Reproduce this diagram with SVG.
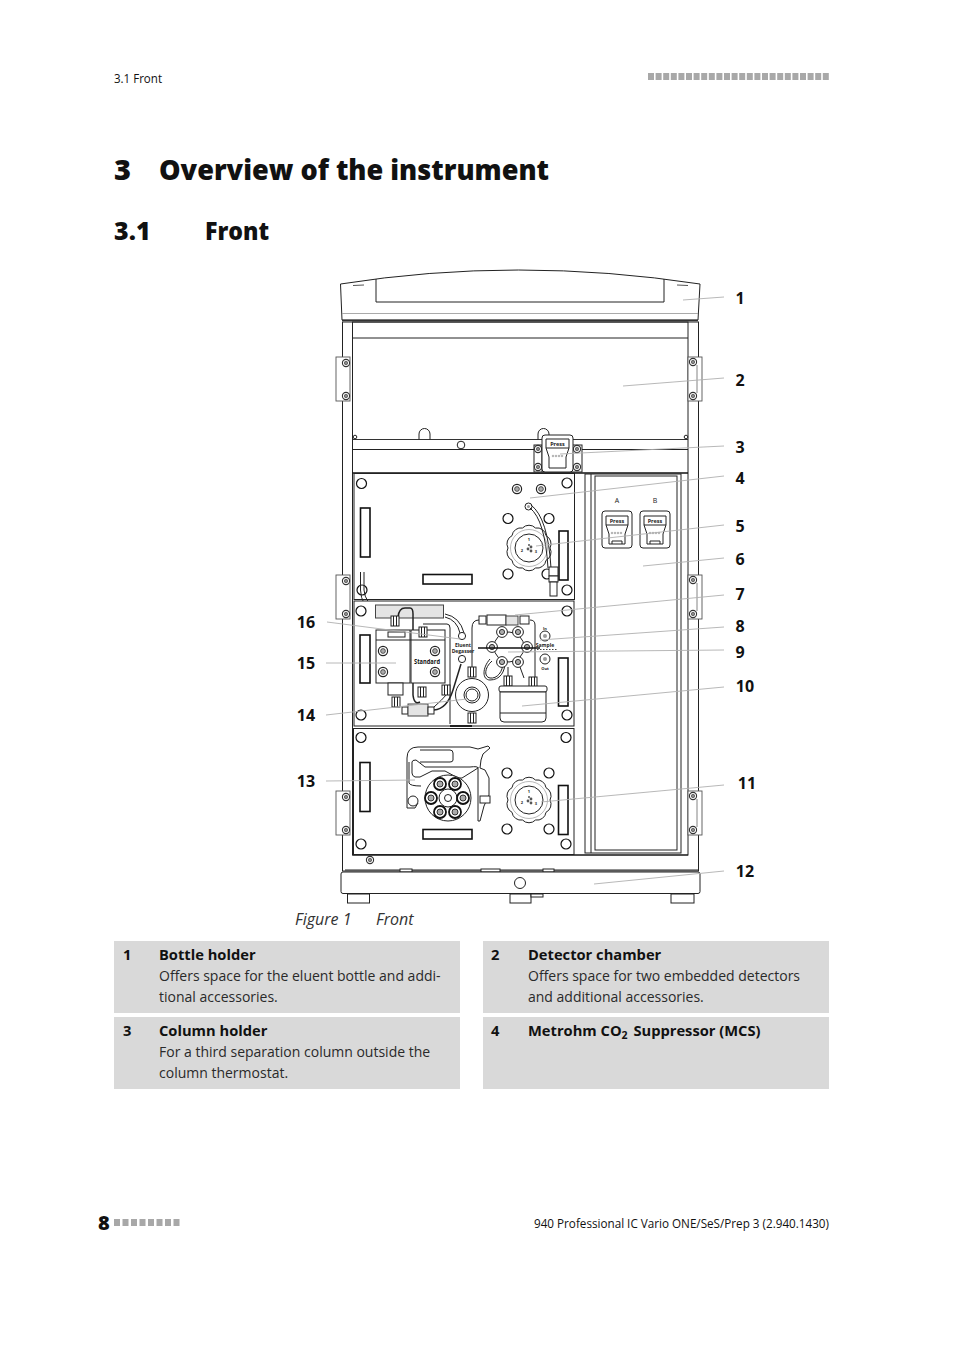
<svg xmlns="http://www.w3.org/2000/svg" xmlns:xlink="http://www.w3.org/1999/xlink" width="954" height="1350" viewBox="0 0 954 1350">
<style>
text{font-family:"Open Sans","Noto Sans","Liberation Sans",sans-serif;fill:#111}
.b{font-weight:800}
.body{font-size:14px;fill:#2a2a2a}
.hd{font-size:14.7px;font-weight:700}
.call{font-size:16px;font-weight:700;text-anchor:middle}
.cap{font-size:16px;font-style:italic;fill:#333}
.l{fill:none;stroke:#222;stroke-width:1}
.t{fill:none;stroke:#222;stroke-width:1.5}
.w{fill:#fff;stroke:#222;stroke-width:1}
.g{fill:#e4e4e4;stroke:#444;stroke-width:1}
.slot{fill:#fff;stroke:#111;stroke-width:1.6}
.lead{fill:none;stroke:#b0b0b0;stroke-width:.9}
.box{fill:#d9d9d9}
.sq{fill:#a8a8a8}
.mini{font-size:5.5px;font-weight:700;text-anchor:middle;fill:#222}
.dig{font-size:4px;font-weight:700;text-anchor:middle;fill:#222}
</style>
<defs>
<g id="hole"><circle r="5" fill="#fff" stroke="#111" stroke-width="1.2"/></g>
<g id="screw"><circle r="3.6" fill="#fff" stroke="#333" stroke-width="1.1"/><circle r="1.7" fill="#888" stroke="#333" stroke-width=".6"/></g>
<g id="bigscrew"><circle r="4.6" fill="#fff" stroke="#222" stroke-width="1.2"/><circle r="2.4" fill="#aaa" stroke="#222" stroke-width=".7"/></g>
<g id="hinge"><rect x="-7" y="0" width="14" height="44" fill="#fff" stroke="#555" stroke-width=".9"/><use href="#screw" x="3" y="6"/><use href="#screw" x="3" y="39"/></g>
<g id="hingeR"><rect x="-7" y="0" width="14" height="44" fill="#fff" stroke="#555" stroke-width=".9"/><line x1="2" y1="8" x2="2" y2="36" stroke="#777" stroke-width=".9"/><use href="#screw" x="-2" y="5"/><use href="#screw" x="-2" y="39"/></g>
<g id="knob">
<path class="w" d="M21 0A9 9 0 0 1 17 12.300A9 9 0 0 1 6.500 20A9 9 0 0 1-6.500 20A9 9 0 0 1-17 12.300A9 9 0 0 1-21 0A9 9 0 0 1-17-12.300A9 9 0 0 1-6.500-20A9 9 0 0 1 6.500-20A9 9 0 0 1 17-12.300A9 9 0 0 1 21 0Z"/>
<circle r="18.500" stroke="#999" fill="none" stroke-width=".7"/><circle r="14" class="l" stroke-width="1.300"/>
<circle cx="-1" cy="1" r="1.400" fill="#555"/><circle cx="2" cy="-1" r="1.400" fill="#555"/><circle cx="2" cy="3" r="1.400" fill="#555"/><circle cx="0" cy="-3" r="1" fill="#555"/>
<text class="dig" x="0" y="-7">1</text><text class="dig" x="-7" y="4">2</text><text class="dig" x="7" y="5">3</text>
</g>
<g id="press">
<rect x="0" y="0" width="30" height="37" rx="3" class="w" stroke-width="1.400"/>
<path class="l" d="M4 5H26V14H4Z" fill="#e0e0e0"/>
<text class="mini" x="15" y="11.500" font-size="6">Press</text>
<path class="l" d="M4 14L7 23V33H23V23L26 14"/>
<path class="l" d="M10 33V30H20V33"/>
<circle cx="10" cy="22" r=".8" stroke="#777" fill="none" stroke-width=".6"/><circle cx="13" cy="22" r=".8" stroke="#777" fill="none" stroke-width=".6"/><circle cx="16" cy="22" r=".8" stroke="#777" fill="none" stroke-width=".6"/><circle cx="19" cy="22" r=".8" stroke="#777" fill="none" stroke-width=".6"/>
</g>
<g id="fit"><rect x="-4" y="-5" width="8" height="10" class="w" stroke-width="1.200"/><line x1="-1.500" y1="-5" x2="-1.500" y2="5" class="l" stroke="#555"/><line x1="1.500" y1="-5" x2="1.500" y2="5" class="l" stroke="#555"/></g>
<g id="vfit"><circle r="5.400" class="w" stroke-width="1.400"/><circle r="2.600" fill="#aaa" stroke="#222" stroke-width=".9"/></g>
<g id="roller"><circle r="6" fill="#fff" stroke="#111" stroke-width="1.800"/><circle r="3" fill="#aaa" stroke="#222" stroke-width=".9"/></g>
<rect id="s1" width="6" height="7" class="sq"/>
</defs>

<g id="page-header">
<text x="114" y="83" font-size="13.500" textLength="48" lengthAdjust="spacingAndGlyphs">3.1 Front</text>
<g id="header-squares">
<use href="#s1" x="648" y="73"/><use href="#s1" x="655.600" y="73"/><use href="#s1" x="663.200" y="73"/><use href="#s1" x="670.800" y="73"/><use href="#s1" x="678.400" y="73"/><use href="#s1" x="686" y="73"/><use href="#s1" x="693.600" y="73"/><use href="#s1" x="701.200" y="73"/><use href="#s1" x="708.800" y="73"/><use href="#s1" x="716.400" y="73"/><use href="#s1" x="724" y="73"/><use href="#s1" x="731.600" y="73"/><use href="#s1" x="739.200" y="73"/><use href="#s1" x="746.800" y="73"/><use href="#s1" x="754.400" y="73"/><use href="#s1" x="762" y="73"/><use href="#s1" x="769.600" y="73"/><use href="#s1" x="777.200" y="73"/><use href="#s1" x="784.800" y="73"/><use href="#s1" x="792.400" y="73"/><use href="#s1" x="800" y="73"/><use href="#s1" x="807.600" y="73"/><use href="#s1" x="815.200" y="73"/><use href="#s1" x="822.800" y="73"/>
</g>
</g>

<g id="headings">
<text class="b" x="114" y="180" font-size="29">3</text>
<text class="b" x="159" y="180" font-size="29" textLength="390" lengthAdjust="spacingAndGlyphs">Overview of the instrument</text>
<text class="b" x="114" y="240" font-size="25">3.1</text>
<text class="b" x="205" y="240" font-size="24" textLength="64" lengthAdjust="spacingAndGlyphs">Front</text>
</g>

<g id="instrument">
<g id="bottle-holder">
<path class="w" d="M340.500 284Q517 256 700 284L698 320H342Z"/>
<path class="l" d="M376 279V302H664V279" stroke="#555"/>
<line x1="342" y1="313.500" x2="698" y2="313.500" stroke="#aaa"/>
<path d="M342 320.500H698" stroke="#333" stroke-width="1.600"/>
<line x1="353" y1="285.500" x2="364" y2="285" stroke="#555"/><line x1="677" y1="285" x2="688" y2="285.500" stroke="#555"/>
</g>
<g id="housing">
<rect x="342.500" y="322" width="356" height="549" class="l" fill="#fff"/>
<rect x="352.500" y="322" width="335.500" height="533" class="l" stroke="#111"/>
<line x1="352.500" y1="338" x2="688" y2="338" class="l"/>
<line x1="352.500" y1="439.500" x2="688" y2="439.500" stroke="#333" stroke-width="1.200"/>
<line x1="352.500" y1="449.500" x2="688" y2="449.500" class="l"/>
<line x1="352.500" y1="473" x2="688" y2="473" stroke="#111" stroke-width="1.400"/>
<path class="l" d="M419 439.500V434A5.500 5.500 0 0 1 430 434V439.500" stroke="#555"/>
<path class="l" d="M538 439.500V434A5.500 5.500 0 0 1 549 434V439.500" stroke="#555"/>
<circle cx="461" cy="445" r="3.800" class="w" stroke="#555"/>
<circle cx="355" cy="437" r="1.800" class="w"/><circle cx="686" cy="437" r="1.800" class="w"/>
<line x1="352.500" y1="855" x2="688" y2="855" stroke="#111" stroke-width="1.200"/>
<use href="#hinge" x="343" y="357"/><use href="#hingeR" x="695" y="357"/>
<use href="#hinge" x="343" y="575"/><use href="#hingeR" x="695" y="575"/>
<use href="#hinge" x="343" y="791"/><use href="#hingeR" x="695" y="791"/>
<use href="#screw" x="370" y="860"/>
</g>
<g id="column-holder">
<rect x="534" y="445" width="48" height="27" class="w" stroke="#444"/>
<line x1="542" y1="445" x2="542" y2="472" class="l" stroke="#444"/>
<use href="#screw" x="538" y="449"/><use href="#screw" x="538" y="467"/><use href="#screw" x="577" y="449"/><use href="#screw" x="577" y="467"/>
<rect x="542" y="435" width="31" height="37" rx="3" class="w" stroke-width="1.300"/>
<path class="l" d="M546 439H569V448H546Z" fill="#e0e0e0"/>
<text class="mini" x="557.500" y="445.500">Press</text>
<path class="l" d="M546 448L549 457V468H566V457L569 448"/>
<circle cx="553" cy="456" r=".8" stroke="#777" fill="none" stroke-width=".6"/><circle cx="556" cy="456" r=".8" stroke="#777" fill="none" stroke-width=".6"/><circle cx="559" cy="456" r=".8" stroke="#777" fill="none" stroke-width=".6"/><circle cx="562" cy="456" r=".8" stroke="#777" fill="none" stroke-width=".6"/>
</g>
<g id="detector-door">
<rect x="585" y="474" width="96" height="379" class="l"/>
<rect x="595" y="476" width="82" height="374" class="l" stroke="#555"/>
<line x1="591" y1="474" x2="591" y2="853" class="l" stroke="#555"/>
<text class="dig" x="617" y="503" style="font-size:7px;font-weight:400">A</text>
<text class="dig" x="655" y="503" style="font-size:7px;font-weight:400">B</text>
<use href="#press" x="602" y="511"/><use href="#press" x="640" y="511"/>
</g>
<g id="panel-upper">
<rect x="354" y="473.500" width="220.500" height="126" class="w" stroke-width="1.200"/>
<use href="#hole" x="361.500" y="483.500"/><use href="#hole" x="567" y="483"/><use href="#hole" x="362" y="590"/><use href="#hole" x="567" y="590"/>
<use href="#hole" x="508" y="518.500"/><use href="#hole" x="549" y="518.500"/><use href="#hole" x="508" y="574"/><use href="#hole" x="547" y="574"/>
<use href="#bigscrew" x="517" y="489"/><use href="#bigscrew" x="541" y="489"/>
<rect x="360.500" y="508" width="9.500" height="49" class="slot"/>
<rect x="559" y="531" width="9" height="49" class="slot"/>
<rect x="423" y="574.500" width="49" height="9.500" class="slot"/>
<use href="#knob" x="529" y="548"/>
<circle cx="528.500" cy="506.500" r="3.500" class="w" stroke-width="1.200"/><circle cx="528.500" cy="506.500" r="1.500" fill="#999"/>
<path class="l" d="M531 505Q548 518 551 568"/><path class="l" d="M530 508Q545 520 548 568"/>
<rect x="549" y="567" width="9" height="9" class="w"/><rect x="549" y="576" width="9" height="6" class="w"/><rect x="550" y="582" width="7" height="14" class="w"/>
<path class="l" d="M360.500 572V590Q361 606 375 614"/><path class="l" d="M364 572V590Q365 603 378 610"/>
</g>
<g id="panel-middle">
<rect x="354" y="601" width="220" height="125" class="w" stroke-width="1.100"/>
<use href="#hole" x="361" y="611"/><use href="#hole" x="567" y="611"/><use href="#hole" x="361" y="715"/><use href="#hole" x="567" y="715"/>
<rect x="360" y="635" width="10" height="48" class="slot"/>
<rect x="558.500" y="658" width="9.500" height="48" class="slot"/>
<rect x="375.500" y="605" width="68" height="13" class="g"/>
</g>
<g id="suppressor-columns">
<path class="t" d="M398 617Q399 608 405 608H410Q413 608 413 614V695Q414 705 420 702"/>
<path class="l" d="M445 617Q457 620 460 633"/><path class="l" d="M445 614Q460 617 464 633"/>
<path class="l" d="M423 624H447Q450 624 450 628V724"/>
<rect x="376" y="630" width="34" height="53" class="w"/>
<rect x="411" y="630" width="34" height="53" class="w"/>
<line x1="376" y1="640" x2="445" y2="640" class="l"/>
<rect x="388" y="632" width="17" height="5" class="w"/>
<use href="#fit" x="395" y="621"/>
<use href="#fit" x="423" y="632"/>
<use href="#bigscrew" x="383" y="651"/><use href="#bigscrew" x="383" y="672"/><use href="#bigscrew" x="435" y="651"/><use href="#bigscrew" x="435" y="672"/>
<text x="427" y="664" font-size="7" font-weight="700" text-anchor="middle" fill="#333" textLength="26" lengthAdjust="spacingAndGlyphs">Standard</text>
<rect x="388" y="683" width="15" height="12" class="w"/><use href="#fit" x="396" y="702"/>
<use href="#fit" x="422" y="692"/>
<rect x="402" y="707" width="6" height="7" class="w"/><rect x="408" y="704" width="20" height="12" class="g"/><rect x="428" y="707" width="6" height="7" class="w"/>
<path class="t" d="M434 710Q447 709 453 690L461 664"/>
<path class="l" d="M434 707Q442 700 447 694"/>
<use href="#fit" x="446" y="690"/>
<circle cx="462" cy="636" r="3.600" class="w" stroke-width="1.500"/>
<circle cx="462" cy="659" r="3.600" class="w" stroke-width="1.500"/>
<text x="463" y="647" class="mini" style="font-size:5px">Eluent</text>
<text x="463" y="653" class="mini" style="font-size:5px">Degasser</text>
</g>
<g id="detector-cell">
<path d="M450 726H472" stroke="#222" stroke-width="2"/>
<path class="l" d="M472 668V628Q472 620 479 620"/>
<path class="l" d="M530 620Q535 620 535 625V678"/>
<rect x="479" y="616" width="7" height="8" class="w"/><rect x="487" y="615" width="19" height="10" class="w"/><rect x="506" y="616" width="12" height="9" class="g"/><rect x="520" y="616" width="9" height="8" class="w"/>
<use href="#fit" x="472" y="672"/>
<circle cx="472" cy="695" r="16.500" class="w" stroke-width="1.400"/>
<circle cx="472" cy="695" r="8" class="l"/><circle cx="472" cy="695" r="6" class="l" stroke="#777"/>
<use href="#fit" x="472" y="718"/>
</g>
<g id="injection-valve">
<path class="l" d="M492 661C484 668 484 677 490 678C497 679 503 672 503 662"/>
<path class="l" d="M490 659C482 668 482 680 490 680C500 680 505 672 505 662"/>
<circle cx="509" cy="647" r="15" class="l"/>
<use href="#vfit" x="502" y="632"/><use href="#vfit" x="518" y="632"/><use href="#vfit" x="492" y="647"/><use href="#vfit" x="527" y="647"/><use href="#vfit" x="502" y="662"/><use href="#vfit" x="518" y="662"/>
<path class="l" d="M508 667V678"/><path class="l" d="M520 667L524 678"/>
<line x1="478" y1="648" x2="540" y2="648" stroke="#111" stroke-width="1.700"/>
<line x1="537" y1="649.500" x2="557" y2="649.500" stroke="#444" stroke-dasharray="1.500 1.500"/>
<circle cx="545" cy="636" r="5" class="w" stroke="#777"/><circle cx="545" cy="636" r="2" fill="#999"/>
<circle cx="545" cy="659" r="5" class="w" stroke="#777"/><circle cx="545" cy="659" r="2" fill="#999"/>
<text x="545" y="630" class="mini" style="font-size:4px">In</text>
<text x="545" y="647" class="mini" style="font-size:5px">Sample</text>
<text x="545" y="670" class="mini" style="font-size:4px">Out</text>
</g>
<g id="eluent-bottle">
<use href="#fit" x="508" y="681"/><use href="#fit" x="533" y="682"/>
<rect x="499" y="686" width="48" height="6" rx="2" class="w"/>
<path class="w" d="M500 692H546V718Q546 722 542 722H504Q500 722 500 718Z"/>
<line x1="500" y1="713" x2="546" y2="713" class="l"/>
</g>
<g id="panel-lower">
<rect x="353.500" y="728.500" width="220.500" height="126" class="w" stroke-width="1.200"/>
<use href="#hole" x="361" y="737.500"/><use href="#hole" x="566" y="737.500"/><use href="#hole" x="361" y="844"/><use href="#hole" x="566" y="844"/>
<use href="#hole" x="507" y="773"/><use href="#hole" x="549" y="773"/><use href="#hole" x="507" y="829"/><use href="#hole" x="549" y="829"/>
<rect x="360" y="762.500" width="10" height="49" class="slot"/>
<rect x="558.500" y="785.500" width="9.500" height="49" class="slot"/>
<rect x="423" y="829.500" width="49" height="9.500" class="slot"/>
<use href="#knob" x="529" y="800"/>
</g>
<g id="peristaltic-pump">
<path class="l" stroke="#555" d="M407 808V758Q407 747 418 747H470L478 749L488 746L490 748L483 754L481 760L480 768L485 770L489 778V795L484 806L480 821H478V767"/>
<path class="l" stroke="#555" d="M407 808L415 808L418 803"/>
<path class="l" stroke="#777" d="M420 750H450Q453 750 453 753V760Q453 762 450 762H420"/>
<path class="l" stroke="#333" d="M412 762Q412 760 416 760L425 767H470Q478 766 478 768L462 778H458L445 771H432L420 777H415Q412 776 412 773Z"/>
<path class="l" stroke="#888" d="M409 762V783Q410 786 421 786"/>
<rect x="480" y="796" width="10" height="7" class="w"/>
<circle cx="448" cy="798" r="23" class="w" stroke-width="1.500"/>
<circle cx="448" cy="798" r="9" class="l" stroke="#666"/><circle cx="448" cy="798" r="3.500" class="l" stroke="#666"/>
<use href="#roller" x="440" y="784"/><use href="#roller" x="455" y="784"/><use href="#roller" x="463" y="798"/><use href="#roller" x="455" y="812"/><use href="#roller" x="440" y="812"/><use href="#roller" x="431" y="798"/>
<circle cx="413" cy="801" r="5" class="w"/>
</g>
<g id="base">
<path class="l" d="M345 870H698"/>
<rect x="400" y="869" width="12" height="3" class="w" stroke="#888"/><rect x="481" y="869" width="19" height="3" class="w" stroke="#888"/><rect x="543" y="869" width="11" height="3" class="w" stroke="#888"/>
<rect x="341" y="872" width="359" height="21.500" rx="2" class="w" stroke-width="1.200"/>
<circle cx="520" cy="883" r="5.500" class="l" stroke="#444"/>
<rect x="347.500" y="894" width="22" height="9" class="w"/>
<rect x="510" y="894" width="21" height="9" class="w"/><rect x="531" y="894" width="12" height="3" class="w"/>
<rect x="671" y="894" width="23" height="9" class="w"/>
</g>
</g>

<g id="connectors" class="lead">
<line x1="683" y1="300" x2="724" y2="297"/>
<line x1="623" y1="386" x2="724" y2="378"/>
<line x1="560" y1="454" x2="724" y2="446"/>
<line x1="530" y1="498" x2="724" y2="476"/>
<line x1="536" y1="546" x2="724" y2="525"/>
<line x1="643" y1="566" x2="724" y2="558"/>
<line x1="515" y1="615" x2="724" y2="595"/>
<line x1="540" y1="640" x2="724" y2="627"/>
<line x1="508" y1="652" x2="724" y2="650"/>
<line x1="522" y1="706" x2="724" y2="687"/>
<line x1="541" y1="802" x2="724" y2="785"/>
<line x1="594" y1="884" x2="724" y2="871"/>
<line x1="326" y1="781" x2="415" y2="780"/>
<line x1="326" y1="715" x2="467" y2="699"/>
<line x1="326" y1="663" x2="396" y2="663"/>
<line x1="327" y1="622" x2="460" y2="639"/>
</g>

<g id="callouts">
<text class="call" x="740" y="304">1</text><text class="call" x="740" y="386">2</text><text class="call" x="740" y="453">3</text><text class="call" x="740" y="484">4</text><text class="call" x="740" y="532">5</text><text class="call" x="740" y="565">6</text><text class="call" x="740" y="600">7</text><text class="call" x="740" y="632">8</text><text class="call" x="740" y="658">9</text><text class="call" x="745" y="692">10</text><text class="call" x="747" y="789">11</text><text class="call" x="745" y="877">12</text><text class="call" x="306" y="787">13</text><text class="call" x="306" y="721">14</text><text class="call" x="306" y="669">15</text><text class="call" x="306" y="628">16</text>
</g>

<g id="caption">
<text class="cap" x="295" y="925">Figure 1</text><text class="cap" x="376" y="925">Front</text>
</g>

<g id="legend">
<rect class="box" x="114" y="941" width="346" height="72"/>
<rect class="box" x="483" y="941" width="346" height="72"/>
<rect class="box" x="114" y="1017" width="346" height="72"/>
<rect class="box" x="483" y="1017" width="346" height="72"/>
<text class="hd" x="123" y="960">1</text><text class="hd" x="159" y="960">Bottle holder</text>
<text class="body" x="159" y="981">Offers space for the eluent bottle and addi-</text>
<text class="body" x="159" y="1002">tional accessories.</text>
<text class="hd" x="491" y="960">2</text><text class="hd" x="528" y="960">Detector chamber</text>
<text class="body" x="528" y="981">Offers space for two embedded detectors</text>
<text class="body" x="528" y="1002">and additional accessories.</text>
<text class="hd" x="123" y="1036">3</text><text class="hd" x="159" y="1036">Column holder</text>
<text class="body" x="159" y="1057">For a third separation column outside the</text>
<text class="body" x="159" y="1078">column thermostat.</text>
<text class="hd" x="491" y="1036">4</text><text class="hd" x="528" y="1036">Metrohm CO<tspan font-size="10.500" dy="3">2</tspan><tspan dy="-3" dx="2"> Suppressor (MCS)</tspan></text>
</g>

<g id="page-footer">
<text class="b" x="98" y="1230" font-size="20">8</text>
<use href="#s1" x="114" y="1219"/><use href="#s1" x="122.500" y="1219"/><use href="#s1" x="131" y="1219"/><use href="#s1" x="139.500" y="1219"/><use href="#s1" x="148" y="1219"/><use href="#s1" x="156.500" y="1219"/><use href="#s1" x="165" y="1219"/><use href="#s1" x="173.500" y="1219"/>
<text x="534" y="1228" font-size="13.500" textLength="295" lengthAdjust="spacingAndGlyphs">940 Professional IC Vario ONE/SeS/Prep 3 (2.940.1430)</text>
</g>
</svg>
